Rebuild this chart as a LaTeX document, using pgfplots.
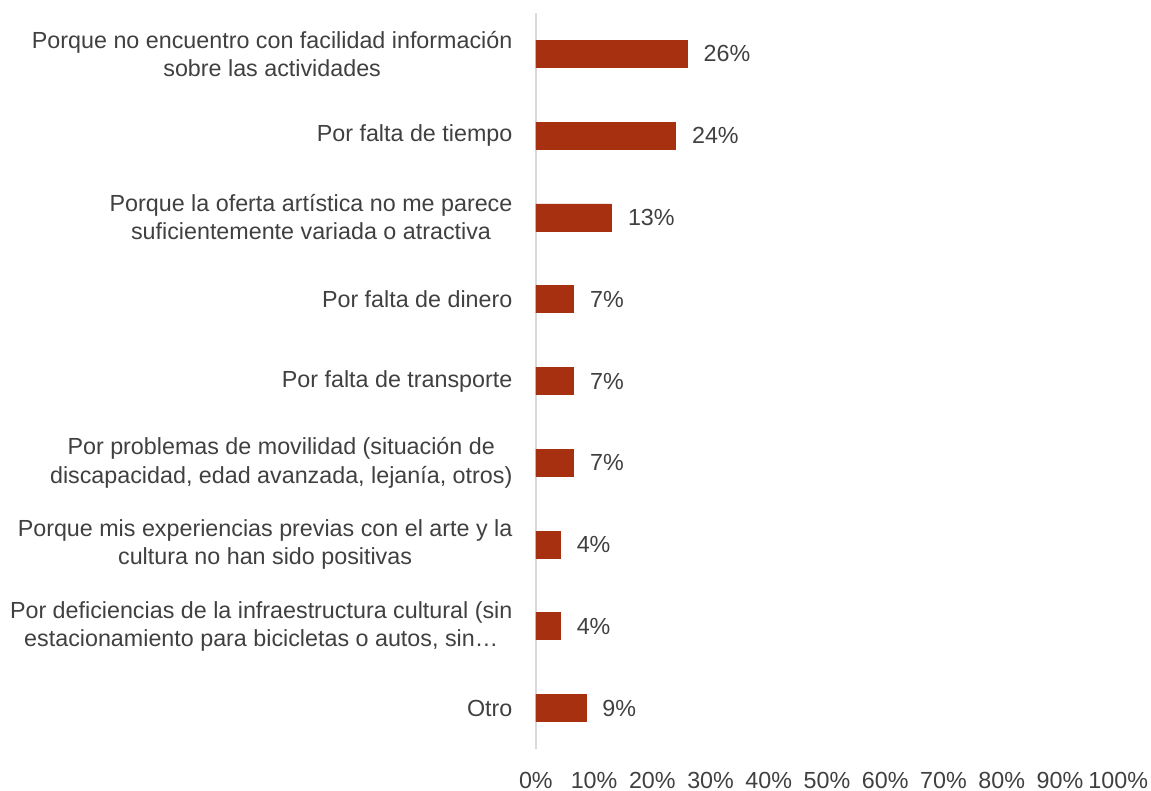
\documentclass[border=0pt]{standalone}
\usepackage{pgfplots}
\pgfplotsset{compat=1.18}
\usepackage{fontspec}
\setmainfont{Liberation Sans}
\definecolor{barred}{RGB}{166,48,15}
\definecolor{txt}{RGB}{64,64,64}
\definecolor{axgray}{RGB}{217,217,217}

\pgfplotstableread[col sep=comma]{
y,val,lab
0,26,26\%
1,24,24\%
2,13,13\%
3,6.5,7\%
4,6.5,7\%
5,6.5,7\%
6,4.2,4\%
7,4.2,4\%
8,8.6,9\%
}\motivos

\begin{document}
\begin{tikzpicture}
\begin{axis}[
scale only axis,width=290pt,height=366.5pt,
xbar,bar width=13.5pt,
xmin=0,xmax=100,ymin=-0.5,ymax=8.5,y dir=reverse,
axis x line=bottom,axis y line=left,
axis line style={-},
x axis line style={draw=none},
y axis line style={draw=axgray,line width=1pt},
major tick length=0pt,
xtick={0,10,20,30,40,50,60,70,80,90,100},
xticklabels={0\%,10\%,20\%,30\%,40\%,50\%,60\%,70\%,80\%,90\%,100\%},
ytick={0,1,2,3,4,5,6,7,8},
yticklabels={
{Porque no encuentro con facilidad información\\sobre las actividades},
{Por falta de tiempo},
{Porque la oferta artística no me parece\\suficientemente variada o atractiva},
{Por falta de dinero},
{Por falta de transporte},
{Por problemas de movilidad (situación de\\discapacidad, edad avanzada, lejanía, otros)},
{Porque mis experiencias previas con el arte y la\\cultura no han sido positivas},
{Por deficiencias de la infraestructura cultural (sin\\estacionamiento para bicicletas o autos, sin\ldots},
{Otro}},
every tick label/.append style={font=\fontsize{11.6}{14}\selectfont,text=txt},
y tick label style={align=center,inner sep=0pt,xshift=-11.5pt},
x tick label style={inner sep=0pt,yshift=-11.5pt},
nodes near coords,
point meta=explicit symbolic,
every node near coord/.append style={font=\fontsize{11.6}{14}\selectfont,text=txt,inner sep=0pt,anchor=west,xshift=8pt},
]
\addplot[fill=barred,draw=barred] table[x=val,y=y,meta=lab]{\motivos};
\end{axis}
\path (current bounding box.north west) ++(-5pt,6pt);
\path (current bounding box.south east) ++(1.5pt,-1pt);
\end{tikzpicture}
\end{document}
